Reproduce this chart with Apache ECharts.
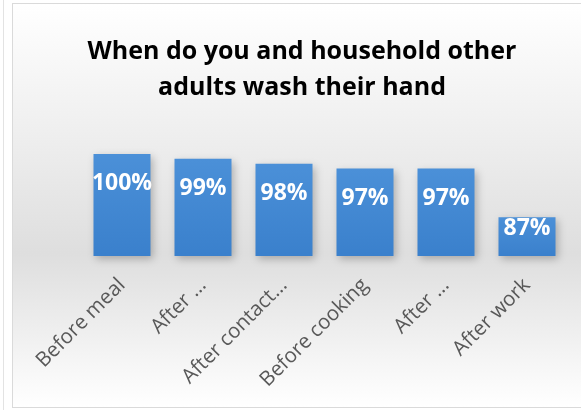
<!DOCTYPE html>
<html>
<head>
<meta charset="utf-8">
<script src="https://cdn.jsdelivr.net/npm/echarts@6/dist/echarts.min.js"></script>
<style>
  html, body { margin: 0; padding: 0; background: #fff; }
  .side { position: absolute; left: 3px; top: 0; width: 1px; height: 410px; background: #e3e3e3; }
  #chart { position: absolute; left: 12px; top: 3px; width: 575px; height: 405px; border: 1px solid #dadada; box-sizing: border-box; }
</style>
</head>
<body>
<div class="side"></div>
<div id="chart"></div>
<script>
// categories as shown on the axis (truncated in the original)
const categories = ['Before meal', 'After ...', 'After contact...', 'Before cooking', 'After ...', 'After work']
const values = [100, 99, 98, 97, 97, 87]

// the short last bar has its label pushed up near the top
let barData = values.map((v, i) => {
  if (i === values.length - 1) {
    return { value: v, label: { distance: 0 } }
  }
  return v
})

let myChart = echarts.init(document.getElementById('chart'))
myChart.setOption({
  backgroundColor: new echarts.graphic.LinearGradient(0, 0, 0, 1, [
    { offset: 0, color: '#ffffff' },
    { offset: 0.35, color: '#ededed' },
    { offset: 0.62, color: '#dedede' },
    { offset: 1, color: '#ffffff' }
  ]),
  title: {
    text: 'When do you and household other\nadults wash their hand',
    left: 284,
    top: 25,
    textAlign: 'center',
    textStyle: {
      fontFamily: 'Open Sans',
      fontSize: 25,
      fontWeight: 'bold',
      color: '#000',
      lineHeight: 36
    }
  },
  grid: {
    left: 68.5,
    right: 18.5,
    top: 150,
    bottom: 151
  },
  xAxis: {
    type: 'category',
    data: categories,
    axisLine: { show: false },
    axisTick: { show: false },
    axisLabel: {
      rotate: 45,
      margin: 26,
      interval: 0,
      color: '#595959',
      fontFamily: 'Open Sans',
      fontSize: 20.5
    }
  },
  yAxis: {
    type: 'value',
    min: 79,
    max: 100,
    show: false
  },
  series: [{
    type: 'bar',
    data: barData,
    barWidth: 57,
    itemStyle: {
      color: new echarts.graphic.LinearGradient(0, 0, 0, 1, [
        { offset: 0, color: '#4b90d8' },
        { offset: 1, color: '#3a80cc' }
      ]),
      shadowColor: 'rgba(0,0,0,0.25)',
      shadowBlur: 8,
      shadowOffsetX: 2,
      shadowOffsetY: 3
    },
    label: {
      show: true,
      position: 'insideTop',
      distance: 18,
      formatter: '{c}%',
      color: '#fff',
      fontFamily: 'Open Sans',
      fontSize: 23,
      fontWeight: 'bold'
    }
  }]
})
</script>
</body>
</html>
